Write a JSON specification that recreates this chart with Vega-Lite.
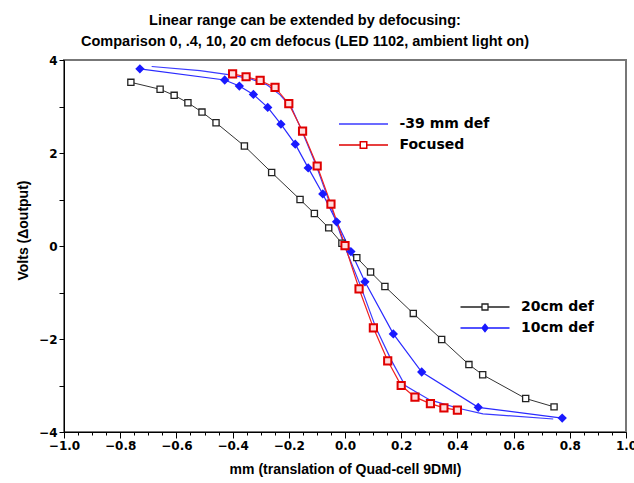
{
  "$schema": "https://vega.github.io/schema/vega-lite/v6.json",
  "width": 562,
  "height": 372,
  "autosize": {"type": "none"},
  "padding": {"left": 64, "top": 60, "right": 8, "bottom": 51},
  "background": "white",
  "config": {
    "view": {"stroke": "#777777", "strokeWidth": 2},
    "axis": {"grid": false, "domainColor": "black", "domainWidth": 1, "tickColor": "black", "labelColor": "black", "titleColor": "black",
      "labelFont": "DejaVu Sans", "labelFontWeight": "bold", "labelFontSize": 12, "titleFont": "Liberation Sans", "titleFontWeight": "bold", "titleFontSize": 14}
  },
  "title": {
    "text": ["Linear range can be extended by defocusing:", "Comparison 0, .4, 10, 20 cm defocus (LED 1102, ambient light on)"],
    "font": "Liberation Sans", "fontSize": 14.5, "fontWeight": "bold", "color": "black",
    "anchor": "middle", "dx": -40, "offset": 5, "lineHeight": 21
  },
  "data": {
    "values": [
      {"series": "20cm def", "x": -0.762, "y": 3.52},
      {"series": "20cm def", "x": -0.658, "y": 3.37},
      {"series": "20cm def", "x": -0.608, "y": 3.24},
      {"series": "20cm def", "x": -0.559, "y": 3.08},
      {"series": "20cm def", "x": -0.509, "y": 2.88},
      {"series": "20cm def", "x": -0.459, "y": 2.65},
      {"series": "20cm def", "x": -0.358, "y": 2.15},
      {"series": "20cm def", "x": -0.261, "y": 1.58},
      {"series": "20cm def", "x": -0.160, "y": 1.00},
      {"series": "20cm def", "x": -0.109, "y": 0.70},
      {"series": "20cm def", "x": -0.058, "y": 0.39},
      {"series": "20cm def", "x": -0.011, "y": 0.06},
      {"series": "20cm def", "x": 0.042, "y": -0.25},
      {"series": "20cm def", "x": 0.091, "y": -0.56},
      {"series": "20cm def", "x": 0.142, "y": -0.87},
      {"series": "20cm def", "x": 0.243, "y": -1.45},
      {"series": "20cm def", "x": 0.344, "y": -2.01},
      {"series": "20cm def", "x": 0.441, "y": -2.55},
      {"series": "20cm def", "x": 0.490, "y": -2.77},
      {"series": "20cm def", "x": 0.643, "y": -3.28},
      {"series": "20cm def", "x": 0.744, "y": -3.46},
      {"series": "10cm def", "x": -0.730, "y": 3.81},
      {"series": "10cm def", "x": -0.428, "y": 3.57},
      {"series": "10cm def", "x": -0.376, "y": 3.44},
      {"series": "10cm def", "x": -0.326, "y": 3.26},
      {"series": "10cm def", "x": -0.275, "y": 2.98},
      {"series": "10cm def", "x": -0.228, "y": 2.62},
      {"series": "10cm def", "x": -0.177, "y": 2.19},
      {"series": "10cm def", "x": -0.131, "y": 1.68},
      {"series": "10cm def", "x": -0.079, "y": 1.12},
      {"series": "10cm def", "x": -0.030, "y": 0.52},
      {"series": "10cm def", "x": 0.021, "y": -0.12},
      {"series": "10cm def", "x": 0.071, "y": -0.77},
      {"series": "10cm def", "x": 0.172, "y": -1.89},
      {"series": "10cm def", "x": 0.273, "y": -2.71},
      {"series": "10cm def", "x": 0.474, "y": -3.47},
      {"series": "10cm def", "x": 0.773, "y": -3.70},
      {"series": "Focused", "x": -0.400, "y": 3.70},
      {"series": "Focused", "x": -0.352, "y": 3.64},
      {"series": "Focused", "x": -0.302, "y": 3.56},
      {"series": "Focused", "x": -0.249, "y": 3.41},
      {"series": "Focused", "x": -0.200, "y": 3.06},
      {"series": "Focused", "x": -0.151, "y": 2.47},
      {"series": "Focused", "x": -0.099, "y": 1.72},
      {"series": "Focused", "x": -0.050, "y": 0.90},
      {"series": "Focused", "x": 0.000, "y": 0.01},
      {"series": "Focused", "x": 0.050, "y": -0.92},
      {"series": "Focused", "x": 0.101, "y": -1.76},
      {"series": "Focused", "x": 0.152, "y": -2.47},
      {"series": "Focused", "x": 0.200, "y": -3.00},
      {"series": "Focused", "x": 0.249, "y": -3.25},
      {"series": "Focused", "x": 0.304, "y": -3.39},
      {"series": "Focused", "x": 0.352, "y": -3.48},
      {"series": "Focused", "x": 0.400, "y": -3.53},
      {"series": "-39 mm def", "x": -0.688, "y": 3.86},
      {"series": "-39 mm def", "x": -0.516, "y": 3.77},
      {"series": "-39 mm def", "x": -0.409, "y": 3.68},
      {"series": "-39 mm def", "x": -0.338, "y": 3.60},
      {"series": "-39 mm def", "x": -0.279, "y": 3.47},
      {"series": "-39 mm def", "x": -0.231, "y": 3.25},
      {"series": "-39 mm def", "x": -0.190, "y": 2.97},
      {"series": "-39 mm def", "x": -0.155, "y": 2.50},
      {"series": "-39 mm def", "x": -0.103, "y": 1.74},
      {"series": "-39 mm def", "x": -0.053, "y": 0.90},
      {"series": "-39 mm def", "x": -0.003, "y": 0.02},
      {"series": "-39 mm def", "x": 0.053, "y": -0.82},
      {"series": "-39 mm def", "x": 0.110, "y": -1.76},
      {"series": "-39 mm def", "x": 0.166, "y": -2.47},
      {"series": "-39 mm def", "x": 0.214, "y": -3.00},
      {"series": "-39 mm def", "x": 0.250, "y": -3.13},
      {"series": "-39 mm def", "x": 0.302, "y": -3.31},
      {"series": "-39 mm def", "x": 0.403, "y": -3.49},
      {"series": "-39 mm def", "x": 0.491, "y": -3.61},
      {"series": "-39 mm def", "x": 0.741, "y": -3.72}
    ]
  },
  "encoding": {
    "x": {"field": "x", "type": "quantitative", "scale": {"domain": [-1, 1], "nice": false, "zero": false},
      "axis": {"title": "mm (translation of Quad-cell 9DMI)", "titlePadding": 11,
        "values": [-1,-0.95,-0.9,-0.85,-0.8,-0.75,-0.7,-0.65,-0.6,-0.55,-0.5,-0.45,-0.4,-0.35,-0.3,-0.25,-0.2,-0.15,-0.1,-0.05,0,0.05,0.1,0.15,0.2,0.25,0.3,0.35,0.4,0.45,0.5,0.55,0.6,0.65,0.7,0.75,0.8,0.85,0.9,0.95,1],
        "labelExpr": "abs(round(datum.value*20)) % 4 == 0 ? format(datum.value, '.1f') : ''",
        "tickSize": {"expr": "abs(round(datum.value*20)) % 4 == 0 ? 6 : 3"},
        "labelOverlap": false, "labelFlush": false, "labelPadding": 2}},
    "y": {"field": "y", "type": "quantitative", "scale": {"domain": [-4, 4], "nice": false, "zero": false},
      "axis": {"title": "Volts (Δoutput)", "values": [-4,-3,-2,-1,0,1,2,3,4], "titleY": 170, "titlePadding": 8,
        "labelExpr": "datum.value % 2 == 0 ? format(datum.value, 'd') : ''", "tickSize": 5, "labelOverlap": false, "labelFlush": false}}
  },
  "layer": [
    {"transform": [{"filter": "datum.series == '20cm def'"}], "mark": {"type": "line", "color": "#333333", "strokeWidth": 1}, "encoding": {}},
    {"transform": [{"filter": "datum.series == '10cm def'"}], "mark": {"type": "line", "color": "#2a2aff", "strokeWidth": 1.2}, "encoding": {}},
    {"transform": [{"filter": "datum.series == '-39 mm def'"}], "mark": {"type": "line", "color": "#3a3aff", "strokeWidth": 1.2}, "encoding": {}},
    {"transform": [{"filter": "datum.series == 'Focused'"}], "mark": {"type": "line", "color": "#f02020", "strokeWidth": 1.2}, "encoding": {}},
    {"transform": [{"filter": "datum.series == '20cm def'"}], "mark": {"type": "point", "shape": "square", "size": 38, "fill": "white", "stroke": "#222222", "strokeWidth": 1.3, "opacity": 1}, "encoding": {}},
    {"transform": [{"filter": "datum.series == '10cm def'"}], "mark": {"type": "point", "shape": "diamond", "size": 42, "filled": true, "fill": "#1a1aff", "stroke": "#1a1aff", "opacity": 1}, "encoding": {}},
    {"transform": [{"filter": "datum.series == 'Focused'"}], "mark": {"type": "point", "shape": "square", "size": 52, "fill": "#ffdddd", "stroke": "#e00000", "strokeWidth": 2, "opacity": 1}, "encoding": {}},
    {"transform": [{"filter": "false"}], "mark": {"type": "point", "opacity": 1},
      "encoding": {
        "shape": {"field": "series", "type": "nominal",
          "scale": {"domain": ["-39 mm def", "Focused"], "range": ["M-4.9,0H4.9", "M-4.9,0H-0.65M0.65,0H4.9M-0.65,-0.65H0.65V0.65H-0.65Z"]},
          "legend": {"title": null, "orient": "none", "legendX": 292.5, "legendY": 57, "padding": 0, "symbolSize": 100, "labelOffset": 29, "rowPadding": 7, "symbolStrokeWidth": 1.5,
            "labelFont": "DejaVu Sans", "labelFontWeight": "bold", "labelFontSize": 14, "labelColor": "black"}},
        "stroke": {"field": "series", "type": "nominal", "scale": {"domain": ["-39 mm def", "Focused"], "range": ["#3a3aff", "#e00000"]}},
        "fill": {"field": "series", "type": "nominal", "scale": {"domain": ["-39 mm def", "Focused"], "range": ["#3a3aff", "white"]}}
      }},
    {"transform": [{"filter": "false"}], "mark": {"type": "point", "opacity": 1},
      "encoding": {
        "shape": {"field": "series", "type": "nominal",
          "scale": {"domain": ["20cm def", "10cm def"], "range": ["M-4.9,0H-0.6M0.6,0H4.9M-0.6,-0.6H0.6V0.6H-0.6Z", "M-4.9,0H4.9M0,-0.75L0.6,0L0,0.75L-0.6,0Z"]},
          "legend": {"title": null, "orient": "none", "legendX": 414, "legendY": 240, "padding": 0, "symbolSize": 100, "labelOffset": 29, "rowPadding": 7, "symbolStrokeWidth": 1.3,
            "labelFont": "DejaVu Sans", "labelFontWeight": "bold", "labelFontSize": 14, "labelColor": "black"}},
        "stroke": {"field": "series", "type": "nominal", "scale": {"domain": ["20cm def", "10cm def"], "range": ["#222222", "#1a1aff"]}},
        "fill": {"field": "series", "type": "nominal", "scale": {"domain": ["20cm def", "10cm def"], "range": ["white", "#1a1aff"]}}
      }}
  ],
  "resolve": {
    "scale": {"shape": "independent", "stroke": "independent", "fill": "independent"},
    "legend": {"shape": "independent", "stroke": "independent", "fill": "independent"}
  }
}
